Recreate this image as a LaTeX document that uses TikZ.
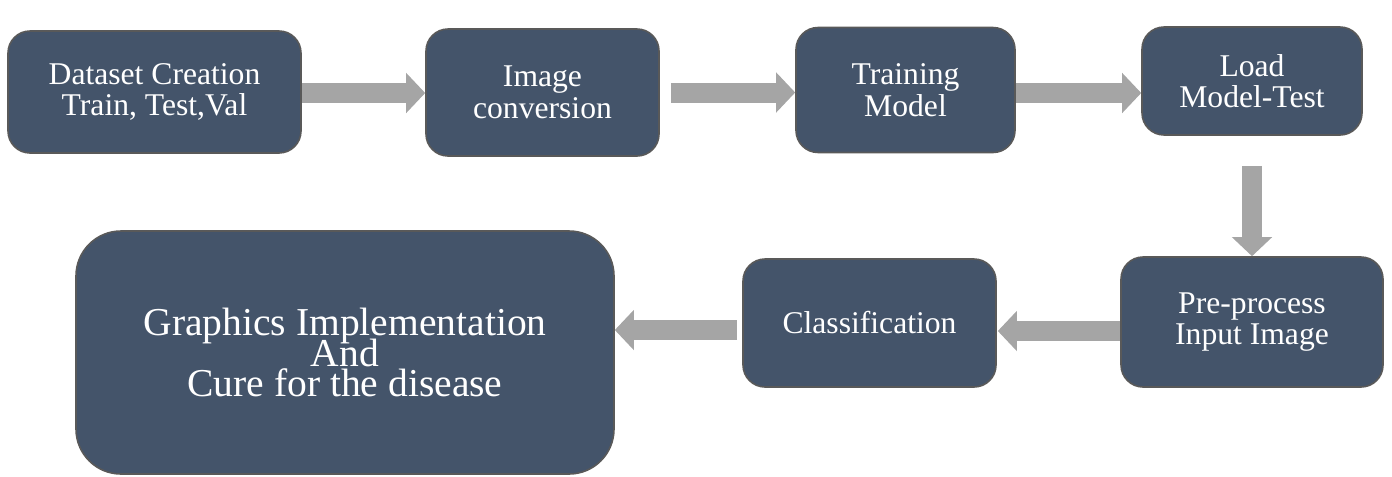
\documentclass[tikz,border=0pt]{standalone}
\usepackage{fontspec}
\setmainfont{Liberation Serif}
\usetikzlibrary{arrows.meta}

\definecolor{boxfill}{HTML}{44546A}
\definecolor{boxline}{HTML}{595959}
\definecolor{arrowgray}{HTML}{A5A5A5}

\newcommand{\stagefont}{\fontsize{18}{18}\selectfont\lineskiplimit=-100pt\relax}
\newcommand{\bigstagefont}{\fontsize{22.5}{17.4}\selectfont\lineskiplimit=-100pt\relax}

\tikzset{
	stage/.style={draw=boxline, fill=boxfill, line width=0.9pt, rounded corners=0.44cm,
		text=white, align=center, inner sep=0pt, font=\stagefont},
	bigstage/.style={stage, rounded corners=0.9cm, font=\bigstagefont},
	flow/.style={arrowgray, line width=0.4cm, -{Triangle[width=0.78cm, length=0.38cm]}}
}

\begin{document}
\begin{tikzpicture}[y=-1cm]
		\useasboundingbox (0,0) rectangle (27.84,9.52);

		% top row
		\node [stage, minimum width=5.86cm, minimum height=2.44cm] (dataset) at (3.09,1.84) {Dataset Creation\\Train, Test,Val};
		\node [stage, minimum width=4.66cm, minimum height=2.54cm] (conv) at (10.85,1.85) {Image\\conversion};
		\node [stage, minimum width=4.38cm, minimum height=2.50cm] (train) at (18.11,1.80) {Training\\Model};
		\node [stage, minimum width=4.40cm, minimum height=2.16cm] (load) at (25.04,1.62) {Load\\Model-Test};

		% bottom row
		\node [stage, minimum width=5.24cm, minimum height=2.60cm] (prep) at (25.04,6.44) {Pre-process\\Input Image};
		\node [stage, minimum width=5.06cm, minimum height=2.56cm] (classify) at (17.39,6.46) {Classification};
		\node [bigstage, minimum width=10.76cm, minimum height=4.86cm] (graphics) at (6.90,7.05) {Graphics Implementation\\And\\Cure for the disease};

		\draw [flow] ([yshift=-0.02cm]dataset.east) -- ([yshift=-0.02cm]dataset.east -| conv.west);
		\draw [flow] ([xshift=0.22cm]conv.east) -- (conv.east -| train.west);
		\draw [flow] ([yshift=-0.06cm]train.east) -- ([yshift=-0.06cm]train.east -| load.west);
		\draw [flow] ([yshift=-0.6cm]load.south) -- (prep.north);
		\draw [flow] ([yshift=-0.18cm]prep.west) -- ([yshift=-0.18cm, xshift=0.02cm]prep.west -| classify.east);
		\draw [flow] ([yshift=-0.14cm, xshift=-0.1cm]classify.west) -- ([yshift=-0.14cm]classify.west -| graphics.east);
	\end{tikzpicture}
\end{document}
